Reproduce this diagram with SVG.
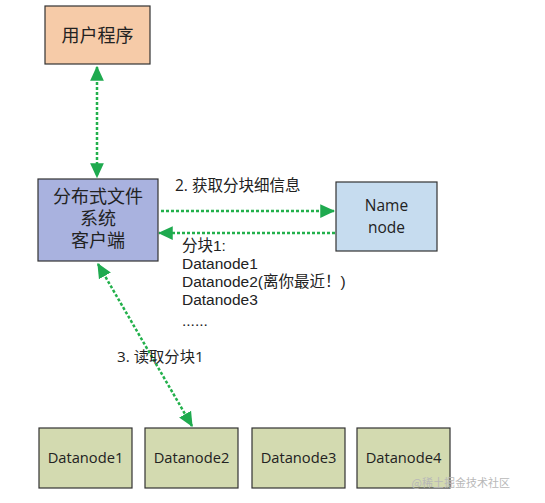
<svg xmlns="http://www.w3.org/2000/svg" width="545" height="503" viewBox="0 0 545 503">
<style>
.t{font-family:"Open Sans","Noto Sans","Noto Sans CJK SC",sans-serif;fill:#222}
.l{font-family:"Liberation Sans","Noto Sans CJK SC",sans-serif;fill:#222}
.box{stroke:#333;stroke-width:1.2}
.c{stroke:#22b04b;stroke-width:2.5;stroke-dasharray:3 2;fill:none}
</style>
<defs>
<marker id="ah" viewBox="0 0 12 12" refX="11" refY="6" markerWidth="6" markerHeight="6" orient="auto-start-reverse" markerUnits="strokeWidth">
<path d="M0,0.5 L12,6 L0,11.5 z" fill="#1faa4f"/>
</marker>
</defs>
<rect width="545" height="503" fill="#fff"/>
<g id="connectors">
<line class="c" x1="97" y1="67" x2="97" y2="177" marker-start="url(#ah)" marker-end="url(#ah)"/>
<line class="c" x1="161" y1="211" x2="334" y2="211" marker-end="url(#ah)"/>
<line class="c" x1="335" y1="233" x2="159" y2="233" marker-end="url(#ah)"/>
<line class="c" x1="98" y1="264" x2="192" y2="426" marker-start="url(#ah)" marker-end="url(#ah)"/>
</g>
<g id="user">
<rect class="box" x="45" y="6" width="105" height="58" fill="#f6cba8"/>
<text class="t" x="97.5" y="42" font-size="18" text-anchor="middle">用户程序</text>
</g>
<g id="client">
<rect class="box" x="38" y="179" width="120" height="82" fill="#a9b2df"/>
<text class="l" font-size="18" text-anchor="middle"><tspan x="98" y="203">分布式文件</tspan><tspan x="98" y="225">系统</tspan><tspan x="98" y="247">客户端</tspan></text>
</g>
<g id="namenode">
<rect class="box" x="336" y="182" width="101" height="69" fill="#c6dcef"/>
<text class="t" font-size="15.5" text-anchor="middle"><tspan x="386.5" y="211">Name</tspan><tspan x="386.5" y="233">node</tspan></text>
</g>
<g id="labels">
<text class="t" x="175" y="191" font-size="15.5">2. 获取分块细信息</text>
<text class="l" font-size="15.5"><tspan x="182" y="251">分块1:</tspan><tspan x="182" y="269">Datanode1</tspan><tspan x="182" y="287">Datanode2(离你最近！)</tspan><tspan x="182" y="305">Datanode3</tspan><tspan x="182" y="326">......</tspan></text>
<text class="t" x="117" y="362" font-size="15.3">3. 读取分块1</text>
</g>
<g id="dn1">
<rect class="box" x="39" y="428" width="93" height="60" fill="#d3dab0"/>
<text class="t" x="85.5" y="463" font-size="14.7" text-anchor="middle">Datanode1</text>
</g>
<g id="dn2">
<rect class="box" x="145" y="428" width="93" height="60" fill="#d3dab0"/>
<text class="t" x="191.5" y="463" font-size="14.7" text-anchor="middle">Datanode2</text>
</g>
<g id="dn3">
<rect class="box" x="252" y="428" width="93" height="60" fill="#d3dab0"/>
<text class="t" x="298.5" y="463" font-size="14.7" text-anchor="middle">Datanode3</text>
</g>
<g id="dn4">
<rect class="box" x="357" y="428" width="93" height="60" fill="#d3dab0"/>
<text class="t" x="403.5" y="463" font-size="14.7" text-anchor="middle">Datanode4</text>
</g>
<text x="510" y="487" font-size="11" text-anchor="end" fill="#b8b8b8" font-family="'Noto Sans CJK SC',sans-serif">@稀土掘金技术社区</text>
</svg>
